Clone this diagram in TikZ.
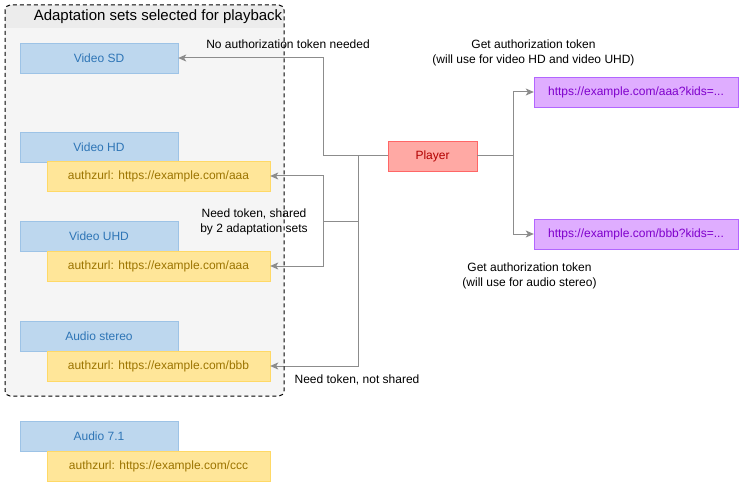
\documentclass[tikz,border=0pt]{standalone}
\usepackage{fontspec}
\setmainfont{Liberation Sans}
\usetikzlibrary{arrows.meta,positioning}
\definecolor{setfill}{HTML}{BDD7EE}
\definecolor{setline}{HTML}{9DC3E6}
\definecolor{settext}{HTML}{2E75B6}
\definecolor{authfill}{HTML}{FFE699}
\definecolor{authline}{HTML}{FFD966}
\definecolor{authtext}{HTML}{9C7400}
\definecolor{playfill}{HTML}{FFA9A4}
\definecolor{playline}{HTML}{FF6666}
\definecolor{playtext}{HTML}{B20000}
\definecolor{urlfill}{HTML}{DFADFF}
\definecolor{urlline}{HTML}{B266FF}
\definecolor{urltext}{HTML}{7F00CC}
\definecolor{linkgray}{HTML}{8C8C8C}
\definecolor{headfill}{HTML}{ECECEC}
\definecolor{bodyfill}{HTML}{F5F5F5}
\tikzset{
  box/.style={inner sep=0pt,minimum height=30pt,font=\fontsize{12}{14}\selectfont},
  adset/.style={box,draw=setline,fill=setfill,text=settext,minimum width=158pt},
  authurl/.style={box,draw=authline,fill=authfill,text=authtext,minimum width=223pt},
  player/.style={box,draw=playline,fill=playfill,text=playtext,minimum width=89pt},
  tokenurl/.style={box,draw=urlline,fill=urlfill,text=urltext,minimum width=204pt},
  lbl/.style={align=center,inner sep=0pt,font=\fontsize{12}{15}\selectfont},
  link/.style={draw=linkgray,line width=1pt},
  tip/.style={-{Stealth[length=8pt,width=7pt,inset=2pt]}}
}
\begin{document}
\begin{tikzpicture}[x=1pt,y=-1pt]
\useasboundingbox[fill=white](0,0)rectangle(743,486);
%グループ枠
\begin{scope}
\clip[rounded corners=5pt](5,5)rectangle(284,396);
\fill[bodyfill](5,5)rectangle(284,396);
\fill[headfill](5,5)rectangle(284,28);
\end{scope}
\node[inner sep=0pt,font=\fontsize{15}{17}\selectfont](title)at(158,17){Adaptation sets selected for playback};
%アダプテーションセット
\node[adset](sd)at(99,58){Video SD};
\node[adset](hd)at(99,147){Video HD};
\node[authurl](hdauth)at(158.5,176){authzurl: https://example.com/aaa};
\node[adset](uhd)at(99,236){Video UHD};
\node[authurl](uhdauth)at(158.5,266){authzurl: https://example.com/aaa};
\node[adset](stereo)at(99,336){Audio stereo};
\node[authurl](stereoauth)at(158.5,366){authzurl: https://example.com/bbb};
\node[adset](surround)at(99,436){Audio 7.1};
\node[authurl](surroundauth)at(158.5,466){authzurl: https://example.com/ccc};
%プレイヤーとトークンURL
\node[player](play)at(432.5,156){Player};
\node[tokenurl](aaaurl)at(636,92){https://example.com/aaa?kids=...};
\node[tokenurl](bbburl)at(636,234){https://example.com/bbb?kids=...};
%分岐点
\coordinate(jsd)at(323,156);
\coordinate(jmain)at(358,156);
\coordinate(jshare)at(358,221);
\coordinate(jaaa)at(323,221);
\coordinate(jright)at(513,156);
%接続線
\draw[link,tip](play.west)--(jsd)|-(sd.east);
\draw[link,tip](jmain)|-(stereoauth.east);
\draw[link](jshare)--(jaaa);
\draw[link,tip](jaaa)|-(hdauth.east);
\draw[link,tip](jaaa)|-(uhdauth.east);
\draw[link](play.east)--(jright);
\draw[link,tip](jright)|-(aaaurl.west);
\draw[link,tip](jright)|-(bbburl.west);
\draw[dash pattern=on 4pt off 3pt,line width=1pt,rounded corners=5pt](5,5)rectangle(284,396);
%ラベル
\node[lbl](nolbl)at(288,44){No authorization token needed};
\node[lbl](sharedlbl)at(254,221.5){Need token, shared\\by 2 adaptation sets};
\node[lbl](notsharedlbl)at(357,380){Need token, not shared};
\node[lbl](getaaa)at(533.5,53){Get authorization token\\(will use for video HD and video UHD)};
\node[lbl](getbbb)at(529.5,275.5){Get authorization token\\(will use for audio stereo)};
\end{tikzpicture}
\end{document}
